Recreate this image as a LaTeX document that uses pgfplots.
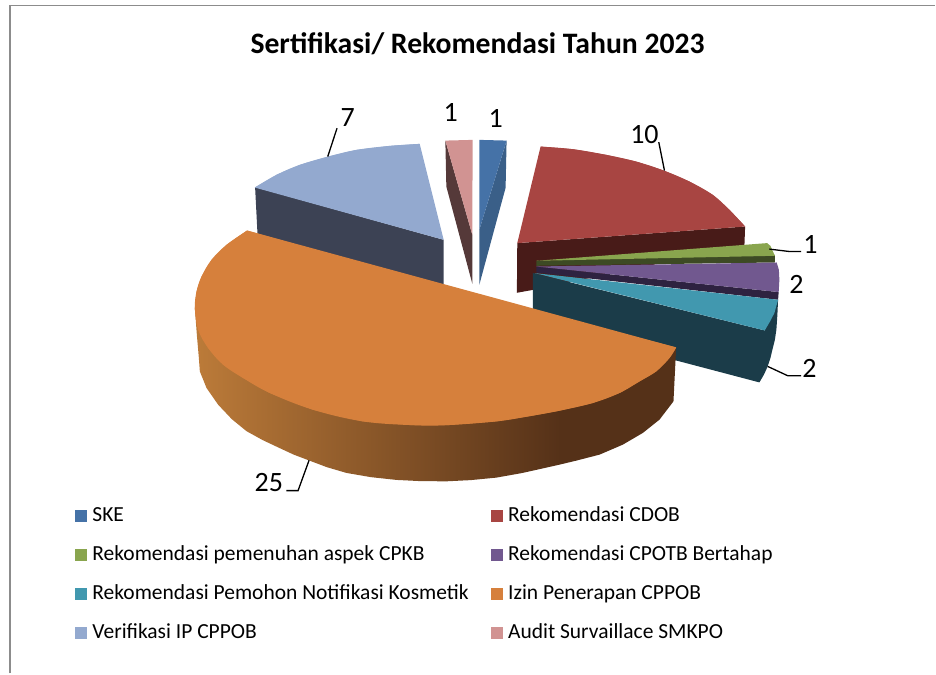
\documentclass[border=0pt]{standalone}
\usepackage{fontspec}
\setmainfont{Carlito}
\usepackage{pgfplots}
\pgfplotsset{compat=1.18}
\definecolor{cA}{HTML}{4572A7}\definecolor{cAd}{HTML}{3A5F88}
\definecolor{cB}{HTML}{A84542}\definecolor{cBd}{HTML}{481B18}
\definecolor{cC}{HTML}{89A54E}\definecolor{cCd}{HTML}{3D4A24}
\definecolor{cD}{HTML}{71588F}\definecolor{cDd}{HTML}{2E2240}
\definecolor{cE}{HTML}{4198AF}\definecolor{cEd}{HTML}{1B3C49}
\definecolor{cF}{HTML}{D6803C}
\definecolor{cFl}{HTML}{BC7B39}\definecolor{cFd}{HTML}{553118}
\definecolor{cG}{HTML}{93A9CF}\definecolor{cGd}{HTML}{3C4254}
\definecolor{cH}{HTML}{D19392}\definecolor{cHd}{HTML}{553939}
\pgfdeclarehorizontalshading{orangeside}{100bp}{color(0bp)=(cFl);color(25bp)=(cFl);color(63bp)=(cFd);color(100bp)=(cFd)}
\begin{document}
\begin{tikzpicture}
\begin{axis}[
  at={(0,0)},anchor=south west,
  width=936pt,height=674pt,scale only axis,
  xmin=0,xmax=936,ymin=0,ymax=674,y dir=reverse,
  axis lines=none,clip=false,
  legend cell align=left,
  legend columns=2,
  legend style={at={(axis cs:75,508)},anchor=north west,draw=none,fill=none,inner sep=0pt,outer sep=0pt,
    font=\fontsize{21.5}{24}\selectfont,
    /tikz/every even column/.append style={column sep=22pt},
    /tikz/row sep=20.9pt,
    /tikz/nodes={inner sep=0pt,anchor=base west,text height=14pt,text depth=4pt}},
  legend image code/.code={\fill[#1,draw=none] (0pt,-0.5pt) rectangle (12pt,11.5pt);},
  every axis plot/.append style={forget plot},
]
\path (axis cs:0,0) rectangle (axis cs:936,674);
% legend
\addlegendimage{fill=cA}\addlegendentry{\hspace{5.5pt}SKE}
\addlegendimage{fill=cB}\addlegendentry{\hspace{5.5pt}Rekomendasi CDOB}
\addlegendimage{fill=cC}\addlegendentry{\hspace{5.5pt}Rekomendasi pemenuhan aspek CPKB}
\addlegendimage{fill=cD}\addlegendentry{\hspace{5.5pt}Rekomendasi CPOTB Bertahap}
\addlegendimage{fill=cE}\addlegendentry{\hspace{5.5pt}Rekomendasi Pemohon Notifikasi Kosmetik}
\addlegendimage{fill=cF}\addlegendentry{\hspace{5.5pt}Izin Penerapan CPPOB}
\addlegendimage{fill=cG}\addlegendentry{\hspace{5.5pt}Verifikasi IP CPPOB}
\addlegendimage{fill=cH}\addlegendentry{\hspace{5.5pt}Audit Survaillace SMKPO}
% frame
\addplot[color=black!45,line width=1.5pt] coordinates {(10,674)(10,5.5)(936,5.5)};
% Verifikasi IP CPPOB
\addplot[fill=cGd,draw=none] coordinates {(255.3,187.3)(258,240)(444,295)(444,240)};
\addplot[fill=cG,draw=none] coordinates {(444,240)(255,187.7)(276.7,175)(300,165)(328.3,156.7)(356.7,150)(390,146)(420,144)};
\addplot[fill=cG,draw=none,smooth,tension=0.6] coordinates {(255,187.7)(276.7,175)(300,165)(328.3,156.7)(356.7,150)(390,146)(420,144)};
% Audit Survaillace SMKPO
\addplot[fill=cHd,draw=none] coordinates {(445.7,140.7)(446.7,186.7)(472.7,284)(472.7,235)};
\addplot[fill=cH,draw=none] coordinates {(445.7,140.7)(473,140)(472.7,235)};
% SKE
\addplot[fill=cAd,draw=none] coordinates {(507,140.7)(506,188)(500,210)(479.7,285)(479.7,230)};
\addplot[fill=cA,draw=none] coordinates {(479.7,140)(507,140.7)(479.7,230)};
% Rekomendasi CDOB
\addplot[fill=cBd,draw=none] coordinates {(517.7,243.3)(745.7,226.7)(745,246)(534,290)(517.3,293)};
\addplot[fill=cB,draw=none] coordinates {(517.7,243.3)(541,146.7)(573.3,149.3)(606.7,155)(636.7,161.7)(664.3,170.7)(690,181.7)(713.3,195)(730,210)(745.7,226.7)};
\addplot[fill=cB,draw=none,smooth,tension=0.6] coordinates {(541,146.7)(573.3,149.3)(606.7,155)(636.7,161.7)(664.3,170.7)(690,181.7)(713.3,195)(730,210)(745.7,226.7)};
% Rekomendasi pemenuhan aspek CPKB
\addplot[fill=cCd,draw=none] coordinates {(536.7,261)(775.5,255)(775.5,262.7)(536.7,266)};
\addplot[fill=cC,draw=none] coordinates {(536.7,261)(767.7,243.3)(771,246)(775.5,256)};
% Rekomendasi CPOTB Bertahap
\addplot[fill=cDd,draw=none] coordinates {(536.7,266.7)(779.3,292.3)(778.7,300)(536.7,272.7)};
\addplot[fill=cD,draw=none] coordinates {(536.7,266.7)(777.3,262.7)(779.5,270)(780,280)(779.3,292.3)};
% Rekomendasi Pemohon Notifikasi Kosmetik
\addplot[fill=cEd,draw=none] coordinates {(533.3,273.3)(765.3,330.7)(778.7,300)(778,315)(777,330)(775.5,340)(773,350)(771,358.5)(768.3,366.7)(764.5,375)(760,382.7)(533.3,323)};
\addplot[fill=cE,draw=none] coordinates {(535,273.3)(778.7,300)(775,313.3)(770.5,322)(765.3,330.7)};
% Izin Penerapan CPPOB
\addplot[shading=orangeside,draw=none] coordinates {(195,308)(197,335)(199,358)(200,371.7)(206.7,388.3)(218.3,405)(232,419.5)(246.7,431.5)(263,440.5)(280,448.5)(294,455)(309,460.7)(327,467.5)(346.7,473.3)(371,477.5)(396.7,480.3)(421,481.5)(446.7,481.7)(471,480.5)(496.7,478)(522,473.5)(546.7,468)(560,465)(576.7,461)(600,455)(623.3,445)(643.3,433.3)(660,420)(674,401.7)(676.7,347.7)};
\addplot[fill=cF,draw=none] coordinates {(480,297)(247.3,230.7)(226.7,245)(211.7,260)(201.7,276.7)(196.7,291.7)(195,308.3)(198.3,330)(208.3,348.3)(223.3,365)(243.3,378.3)(270,393.3)(313,410)(363,421.7)(413,425.5)(447,425.5)(497,421.7)(530,416.5)(560,411)(593.3,403.3)(620,393.3)(640,381.7)(656.7,371.7)(670,358.3)(676.7,347.7)};
\addplot[fill=cF,draw=none,smooth,tension=0.6] coordinates {(247.3,230.7)(226.7,245)(211.7,260)(201.7,276.7)(196.7,291.7)(195,308.3)(198.3,330)(208.3,348.3)(223.3,365)(243.3,378.3)(270,393.3)(313,410)(363,421.7)(413,425.5)(447,425.5)(497,421.7)(530,416.5)(560,411)(593.3,403.3)(620,393.3)(640,381.7)(656.7,371.7)(670,358.3)(676.7,347.7)};
% leader lines
\addplot[black,line width=1.3pt] coordinates {(328,156.7)(337.3,128.3)};
\addplot[black,line width=1.3pt] coordinates {(659.3,142.3)(665,170.7)};
\addplot[black,line width=1.3pt] coordinates {(770,249.3)(790,251.7)(801.7,251.7)};
\addplot[black,line width=1.3pt] coordinates {(768.3,366.7)(788.3,376)(801.7,376)};
\addplot[black,line width=1.3pt] coordinates {(309.3,460.7)(298.3,491)(286.7,491)};
% texts
\node[font=\fontsize{29.7}{32}\selectfont\bfseries] at (axis cs:478,44) {Sertifikasi/ Rekomendasi Tahun 2023};
\tikzset{lab/.style={font=\fontsize{28}{30}\selectfont,inner sep=0pt}}
\node[lab] at (axis cs:348,118) {7};
\node[lab] at (axis cs:451,113) {1};
\node[lab] at (axis cs:496,119) {1};
\node[lab] at (axis cs:645,135) {10};
\node[lab] at (axis cs:811,245) {1};
\node[lab] at (axis cs:797,285) {2};
\node[lab] at (axis cs:810,369) {2};
\node[lab] at (axis cs:269,483) {25};
\end{axis}
\end{tikzpicture}
\end{document}
